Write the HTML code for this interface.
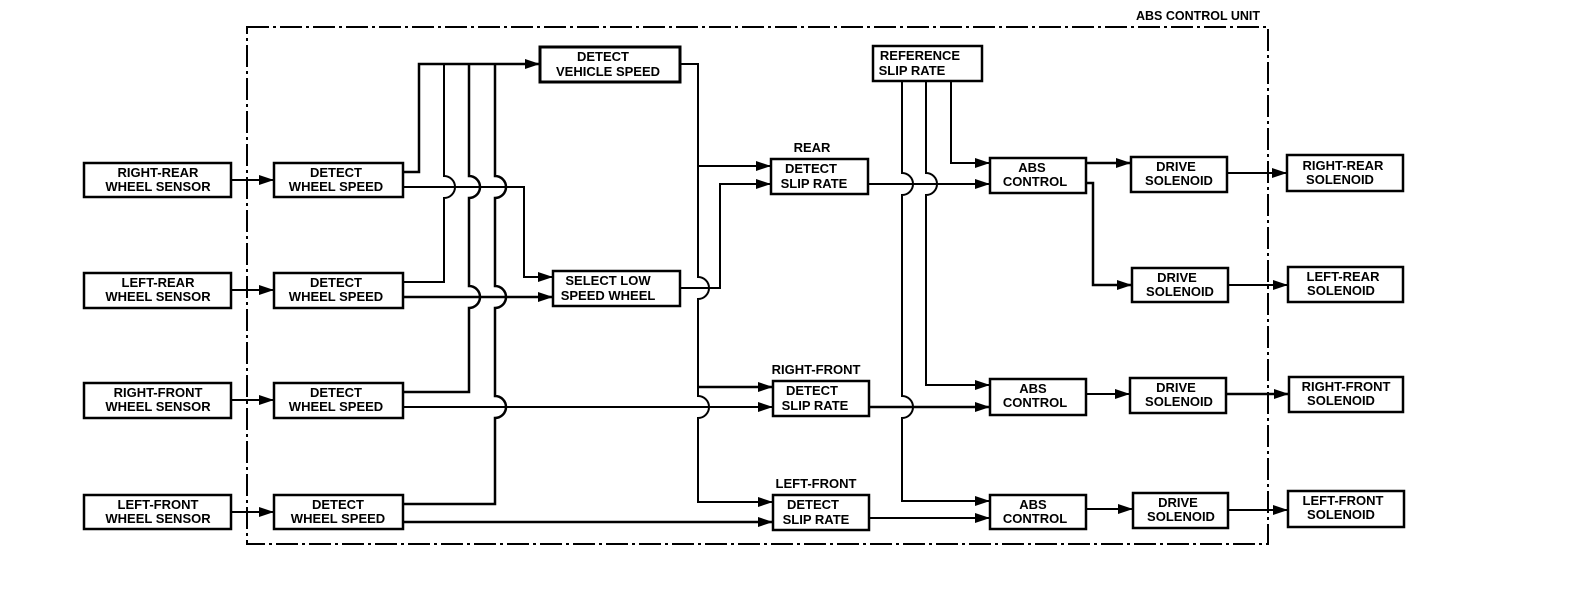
<!DOCTYPE html>
<html><head><meta charset="utf-8"><style>
html,body{margin:0;padding:0;background:#fff;}
svg{display:block;}
text{font-family:"Liberation Sans",Arial,sans-serif;font-weight:bold;font-size:13px;fill:#000;text-anchor:middle;}
</style></head><body>
<svg width="1584" height="604" viewBox="0 0 1584 604" xmlns="http://www.w3.org/2000/svg">
<defs>
<marker id="a" markerWidth="16" markerHeight="12" refX="15" refY="6" orient="auto" markerUnits="userSpaceOnUse">
<polygon points="0,1 15,6 0,11" fill="#000"/>
</marker>
</defs>
<rect x="247" y="27" width="1021" height="517" fill="none" stroke="#000" stroke-width="2" stroke-dasharray="22,4,3,4"/>
<text x="1198" y="20" style="font-size:12.5px">ABS CONTROL UNIT</text>

<g fill="none" stroke="#000" stroke-width="2.5">
<rect x="84" y="163" width="147" height="34"/>
<rect x="84" y="273" width="147" height="35"/>
<rect x="84" y="383" width="147" height="35"/>
<rect x="84" y="495" width="147" height="34"/>
<rect x="274" y="163" width="129" height="34"/>
<rect x="274" y="273" width="129" height="35"/>
<rect x="274" y="383" width="129" height="35"/>
<rect x="274" y="495" width="129" height="34"/>
<rect x="540" y="47" width="140" height="35" stroke-width="3"/>
<rect x="553" y="271" width="127" height="35"/>
<rect x="771" y="159" width="97" height="35"/>
<rect x="773" y="381" width="96" height="35"/>
<rect x="773" y="495" width="96" height="35"/>
<rect x="873" y="46" width="109" height="35"/>
<rect x="990" y="158" width="96" height="35"/>
<rect x="990" y="379" width="96" height="36"/>
<rect x="990" y="495" width="96" height="34"/>
<rect x="1131" y="157" width="96" height="35"/>
<rect x="1132" y="268" width="96" height="34"/>
<rect x="1130" y="378" width="96" height="35"/>
<rect x="1133" y="493" width="95" height="35"/>
<rect x="1287" y="155" width="116" height="36"/>
<rect x="1288" y="267" width="115" height="35"/>
<rect x="1289" y="377" width="114" height="35"/>
<rect x="1288" y="491" width="116" height="36"/>
</g>

<g fill="none" stroke="#000" stroke-width="2">
<!-- sensor to DWS -->
<path d="M231 180 H274" marker-end="url(#a)"/>
<path d="M231 290 H274" marker-end="url(#a)"/>
<path d="M231 400 H274" marker-end="url(#a)"/>
<path d="M231 512 H274" marker-end="url(#a)"/>
<!-- upper outputs to vehicle speed -->
<path d="M403 172 H419 V64 H540" marker-end="url(#a)" stroke-width="2.5"/>
<path d="M403 282 H444 V198 A11 11 0 0 0 444 176 V64"/>
<path d="M403 392 H469 V308 A11 11 0 0 0 469 286 V198 A11 11 0 0 0 469 176 V64" stroke-width="2.5"/>
<path d="M403 504 H495 V418 A11 11 0 0 0 495 396 V308 A11 11 0 0 0 495 286 V198 A11 11 0 0 0 495 176 V64" stroke-width="2.5"/>
<!-- lower outputs -->
<path d="M403 187 H524 V277 H553" marker-end="url(#a)"/>
<path d="M403 297 H553" marker-end="url(#a)" stroke-width="2.5"/>
<path d="M403 407 H773" marker-end="url(#a)"/>
<path d="M403 522 H773" marker-end="url(#a)" stroke-width="2.5"/>
<!-- trunk -->
<path d="M680 64 H698 V277 A11 11 0 0 1 698 299 V396 A11 11 0 0 1 698 418 V502 H773" marker-end="url(#a)"/>
<path d="M698 166 H771" marker-end="url(#a)"/>
<path d="M698 387 H773" marker-end="url(#a)" stroke-width="2.5"/>
<path d="M680 288 H720 V184 H771" marker-end="url(#a)"/>
<!-- reference slip verticals -->
<path d="M902 81 V173 A11 11 0 0 1 902 195 V396 A11 11 0 0 1 902 418 V501 H990" marker-end="url(#a)"/>
<path d="M926 81 V173 A11 11 0 0 1 926 195 V385 H990" marker-end="url(#a)"/>
<path d="M951 81 V163 H990" marker-end="url(#a)"/>
<!-- slip outputs to ABS -->
<path d="M868 184 H990" marker-end="url(#a)"/>
<path d="M869 407 H990" marker-end="url(#a)" stroke-width="2.5"/>
<path d="M869 518 H990" marker-end="url(#a)"/>
<!-- ABS to drive -->
<path d="M1086 163 H1131" marker-end="url(#a)" stroke-width="2.5"/>
<path d="M1086 183 H1093 V285 H1132" marker-end="url(#a)" stroke-width="2.5"/>
<path d="M1086 394 H1130" marker-end="url(#a)"/>
<path d="M1086 509 H1133" marker-end="url(#a)"/>
<!-- drive to outputs -->
<path d="M1227 173 H1287" marker-end="url(#a)"/>
<path d="M1228 285 H1288" marker-end="url(#a)"/>
<path d="M1226 394 H1289" marker-end="url(#a)" stroke-width="2.5"/>
<path d="M1228 510 H1288" marker-end="url(#a)"/>
</g>

<g>
<text x="158" y="177">RIGHT-REAR</text><text x="158" y="191">WHEEL SENSOR</text>
<text x="158" y="287">LEFT-REAR</text><text x="158" y="301">WHEEL SENSOR</text>
<text x="158" y="397">RIGHT-FRONT</text><text x="158" y="411">WHEEL SENSOR</text>
<text x="158" y="509">LEFT-FRONT</text><text x="158" y="523">WHEEL SENSOR</text>
<text x="336" y="177">DETECT</text><text x="336" y="191">WHEEL SPEED</text>
<text x="336" y="287">DETECT</text><text x="336" y="301">WHEEL SPEED</text>
<text x="336" y="397">DETECT</text><text x="336" y="411">WHEEL SPEED</text>
<text x="338" y="509">DETECT</text><text x="338" y="523">WHEEL SPEED</text>
<text x="603" y="61">DETECT</text><text x="608" y="76">VEHICLE SPEED</text>
<text x="608" y="285">SELECT LOW</text><text x="608" y="300">SPEED WHEEL</text>
<text x="812" y="152">REAR</text>
<text x="811" y="173">DETECT</text><text x="814" y="188">SLIP RATE</text>
<text x="816" y="374">RIGHT-FRONT</text>
<text x="812" y="395">DETECT</text><text x="815" y="410">SLIP RATE</text>
<text x="816" y="488">LEFT-FRONT</text>
<text x="813" y="509">DETECT</text><text x="816" y="524">SLIP RATE</text>
<text x="920" y="60">REFERENCE</text><text x="912" y="75">SLIP RATE</text>
<text x="1032" y="172">ABS</text><text x="1035" y="186">CONTROL</text>
<text x="1033" y="393">ABS</text><text x="1035" y="407">CONTROL</text>
<text x="1033" y="509">ABS</text><text x="1035" y="523">CONTROL</text>
<text x="1176" y="171">DRIVE</text><text x="1179" y="185">SOLENOID</text>
<text x="1177" y="282">DRIVE</text><text x="1180" y="296">SOLENOID</text>
<text x="1176" y="392">DRIVE</text><text x="1179" y="406">SOLENOID</text>
<text x="1178" y="507">DRIVE</text><text x="1181" y="521">SOLENOID</text>
<text x="1343" y="170">RIGHT-REAR</text><text x="1340" y="184">SOLENOID</text>
<text x="1343" y="281">LEFT-REAR</text><text x="1341" y="295">SOLENOID</text>
<text x="1346" y="391">RIGHT-FRONT</text><text x="1341" y="405">SOLENOID</text>
<text x="1343" y="505">LEFT-FRONT</text><text x="1341" y="519">SOLENOID</text>
</g>
</svg>
</body></html>
